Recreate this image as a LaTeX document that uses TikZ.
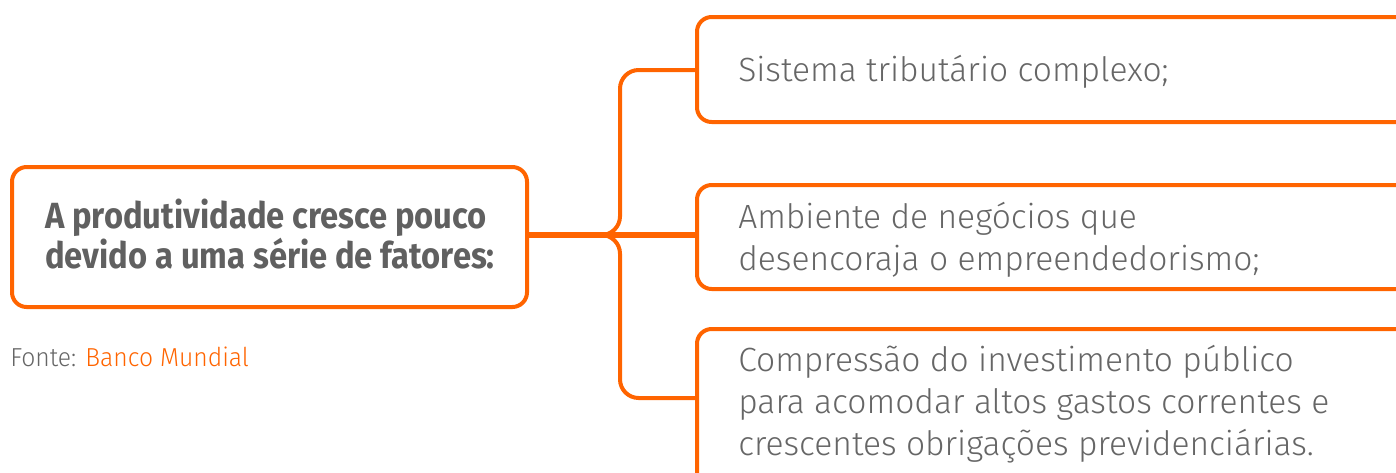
\documentclass[tikz,border=0pt]{standalone}
\usepackage{fontspec}
\setmainfont{Fira Sans}
\newfontfamily\lightf{Fira Sans Light}
\newfontfamily\condf[FakeStretch=0.9]{Fira Sans}
\newfontfamily\condlightf[FakeStretch=0.95]{Fira Sans Light}
\definecolor{orng}{HTML}{FF6400}
\definecolor{txtgray}{HTML}{606060}
\definecolor{lgray}{HTML}{666666}
\tikzset{
  box/.style={draw=orng, line width=3pt, rounded corners=11pt, inner sep=0pt, anchor=north west},
  conn/.style={draw=orng, line width=3pt, rounded corners=14pt},
  rtext/.style={inner sep=0pt, anchor=base west, align=left, text=lgray,
     font=\lightf\fontsize{25.2}{31.5}\selectfont},
}
\begin{document}
\begin{tikzpicture}[x=0.75pt,y=-0.75pt]
\useasboundingbox (0,0) rectangle (1396,472);
\clip (0,0) rectangle (1396,472);
% main box
\node[box, minimum width=515*0.75pt, minimum height=140*0.75pt] (main) at (10,165) {};
\node[inner sep=0pt, anchor=base west, align=left, text=txtgray,
  font=\condf\bfseries\fontsize{27.3}{27.5}\selectfont] (maintxt) at (45,268)
  {A produtividade cresce pouco\\devido a uma série de fatores:};
\node[inner sep=0pt, anchor=base west, font=\condlightf\fontsize{19.5}{20}\selectfont, text=lgray]
  (src) at (10,366) {Fonte: \textcolor{orng}{Banco Mundial}};
% right boxes
\node[box, minimum width=720*0.75pt, minimum height=105*0.75pt] (b1) at (695,15) {};
\node[box, minimum width=720*0.75pt, minimum height=104*0.75pt] (b2) at (695,183) {};
\node[box, minimum width=720*0.75pt, minimum height=170*0.75pt] (b3) at (695,327) {};
\node[rtext] (t1) at (738,81) {Sistema tributário complexo;};
\node[rtext] (t2) at (738,270) {Ambiente de negócios que\\desencoraja o empreendedorismo;};
\node[rtext] (t3) at (738,455) {Compressão do investimento público\\para acomodar altos gastos correntes e\\crescentes obrigações previdenciárias.};
% connectors
\coordinate (tip) at (610,235);
\coordinate (a1) at (b1.west |- 0,70);
\coordinate (a3) at (b3.west |- 0,398);
\draw[draw=orng, line width=4.5pt] (main.east |- tip) -- (b2.west |- tip);
\draw[conn] (a1) -- (620,70) -- (620,235) -- (tip);
\draw[conn] (a3) -- (620,398) -- (620,235) -- (tip);
\end{tikzpicture}
\end{document}
